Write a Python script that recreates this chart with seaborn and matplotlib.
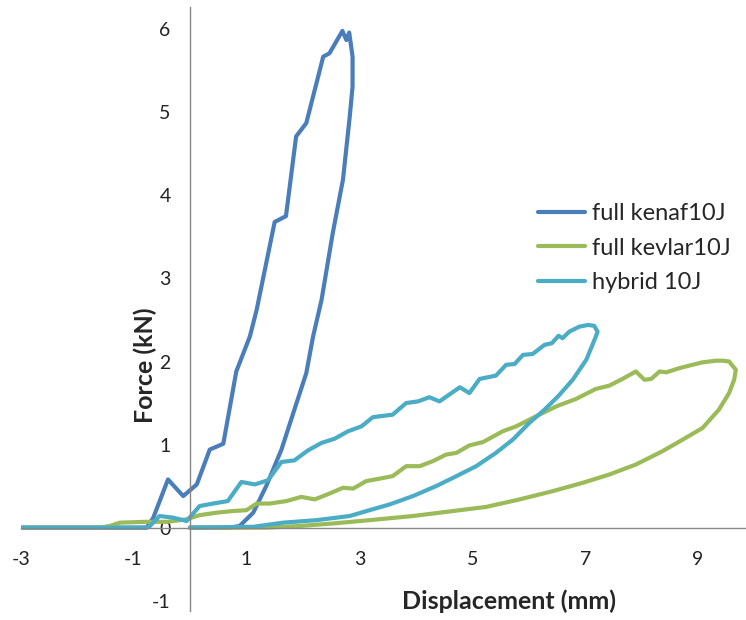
import pandas as pd
import numpy as np
import matplotlib
matplotlib.use('Agg')
import matplotlib.pyplot as plt
import seaborn as sns

# Đường cong lực - chuyển vị
kenaf_x = [-3.0, -0.77, -0.65, -0.39, -0.12, 0.12, 0.35, 0.59, 0.82, 1.06, 1.18, 1.50, 1.70,
           1.88, 2.06, 2.36, 2.47, 2.70, 2.77, 2.82, 2.88, 2.88, 2.83, 2.71, 2.53, 2.33, 2.18,
           2.06, 1.83, 1.62, 1.35, 1.12, 0.88, 0.70, 0.0]
kenaf_y = [0.0, 0.0, 0.12, 0.58, 0.38, 0.52, 0.94, 1.01, 1.88, 2.30, 2.62, 3.68, 3.75,
           4.71, 4.87, 5.67, 5.71, 5.98, 5.87, 5.96, 5.67, 5.31, 4.95, 4.19, 3.55, 2.74, 2.30,
           1.86, 1.38, 0.94, 0.50, 0.18, 0.02, 0.0, 0.0]

kevlar_x = [-3.0, -1.6, -1.42, -1.24, -0.77, -0.40, -0.06, 0.17, 0.47, 0.76, 1.00, 1.18, 1.41,
            1.71, 1.97, 2.21, 2.47, 2.71, 2.89, 3.12, 3.36, 3.59, 3.83, 4.07, 4.30, 4.54,
            4.72, 4.95, 5.19, 5.54, 5.78, 6.13, 6.49, 6.84, 7.19, 7.43, 7.66, 7.90, 8.05,
            8.17, 8.32, 8.44, 8.67, 8.90, 9.08, 9.32, 9.44, 9.55, 9.67, 9.64, 9.55, 9.37,
            9.08, 8.73, 8.37, 7.90, 7.43, 6.96, 6.43, 5.84, 5.25, 4.66, 3.95, 3.18, 2.53,
            1.94, 1.35, 0.0]
kevlar_y = [0.0, 0.0, 0.02, 0.06, 0.07, 0.07, 0.10, 0.15, 0.18, 0.20, 0.21, 0.29, 0.29,
            0.32, 0.37, 0.34, 0.41, 0.48, 0.47, 0.56, 0.59, 0.62, 0.74, 0.74, 0.80, 0.88,
            0.90, 0.99, 1.03, 1.16, 1.22, 1.34, 1.46, 1.55, 1.67, 1.71, 1.79, 1.88, 1.78,
            1.79, 1.88, 1.87, 1.92, 1.96, 1.99, 2.01, 2.01, 2.00, 1.90, 1.78, 1.62, 1.42,
            1.20, 1.06, 0.92, 0.76, 0.64, 0.54, 0.44, 0.34, 0.25, 0.20, 0.14, 0.09, 0.05,
            0.02, 0.0, 0.0]

hybrid_x = [-3.0, -0.77, -0.71, -0.54, -0.30, -0.06, 0.17, 0.41, 0.67, 0.91, 1.15, 1.38,
            1.62, 1.85, 2.09, 2.33, 2.56, 2.80, 3.04, 3.24, 3.59, 3.83, 4.04, 4.24, 4.42,
            4.78, 4.95, 5.13, 5.42, 5.60, 5.75, 5.90, 6.07, 6.28, 6.41, 6.53, 6.60, 6.72,
            6.90, 7.05, 7.16, 7.22, 7.19, 7.02, 6.78, 6.52, 6.28, 6.01, 5.72, 5.42, 5.07,
            4.72, 4.36, 3.95, 3.54, 3.18, 2.83, 2.24, 1.65, 1.12, 0.0]
hybrid_y = [0.0, 0.0, 0.02, 0.14, 0.12, 0.08, 0.26, 0.29, 0.32, 0.55, 0.52, 0.57,
            0.79, 0.81, 0.93, 1.02, 1.07, 1.16, 1.22, 1.33, 1.36, 1.50, 1.52, 1.57, 1.52,
            1.69, 1.62, 1.79, 1.83, 1.96, 1.97, 2.08, 2.09, 2.20, 2.22, 2.31, 2.28, 2.36,
            2.42, 2.44, 2.43, 2.36, 2.30, 2.02, 1.78, 1.58, 1.42, 1.26, 1.06, 0.90, 0.74,
            0.62, 0.50, 0.38, 0.28, 0.21, 0.14, 0.09, 0.06, 0.01, 0.0]

series_names = ['full kenaf10J', 'full kevlar10J', 'hybrid 10J']
colors = ['#4a7ebb', '#9bbb59', '#4bacc6']
x_ticks = [-3, -1, 1, 3, 5, 7, 9]
y_ticks = [-1, 0, 1, 2, 3, 4, 5, 6]

frames = []
for name, xs, ys in zip(series_names, [kenaf_x, kevlar_x, hybrid_x], [kenaf_y, kevlar_y, hybrid_y]):
    frames.append(pd.DataFrame({'disp': xs, 'force': ys, 'series': name, 'idx': np.arange(len(xs))}))
df = pd.concat(frames, ignore_index=True)

sns.set_style('white')
plt.rcParams['font.family'] = ['Lato', 'DejaVu Sans']
plt.rcParams['axes.unicode_minus'] = False

fig = plt.figure(figsize=(7.46, 6.2), dpi=100)
ax = fig.add_axes([0.0277, 0.015, 0.9723, 0.974])

sns.lineplot(data=df, x='disp', y='force', hue='series', hue_order=series_names,
             palette=dict(zip(series_names, colors)), sort=False, estimator=None,
             linewidth=3, ax=ax)

ax.set_xlim(-3, 9.85)
ax.set_ylim(-1, 6.27)
ax.set_xticks(x_ticks)
ax.set_yticks(y_ticks)

# trục cắt nhau tại gốc toạ độ
ax.spines['left'].set_position(('data', 0))
ax.spines['bottom'].set_position(('data', 0))
for s in ['top', 'right']:
    ax.spines[s].set_visible(False)
for s in ['left', 'bottom']:
    ax.spines[s].set_color('#868686')
    ax.spines[s].set_linewidth(1)
ax.tick_params(axis='both', direction='out', length=7, width=1, color='#868686',
               labelsize=14, labelcolor='#222222', pad=10)
ax.tick_params(axis='y', pad=7)
# nhãn -1 nằm sát mép dưới, đẩy lên một chút cho khỏi bị cắt
ax.get_yticklabels()[0].set_va('bottom')

ax.set_xlabel('')
ax.set_ylabel('')
ax.text(-0.8, 1.95, 'Force (kN)', rotation=90, ha='center', va='center',
        fontsize=18, fontweight='bold')
ax.text(5.66, -0.886, 'Displacement (mm)', ha='center', va='center',
        fontsize=18, fontweight='bold')

ax.legend(loc='upper left', bbox_to_anchor=(538 / 746, 1 - 203 / 620),
          bbox_transform=fig.transFigure, frameon=False, fontsize=17,
          handlelength=2.0, handletextpad=0.3, labelspacing=0.58,
          borderpad=0, borderaxespad=0)

fig.savefig('out.png', dpi=100)
